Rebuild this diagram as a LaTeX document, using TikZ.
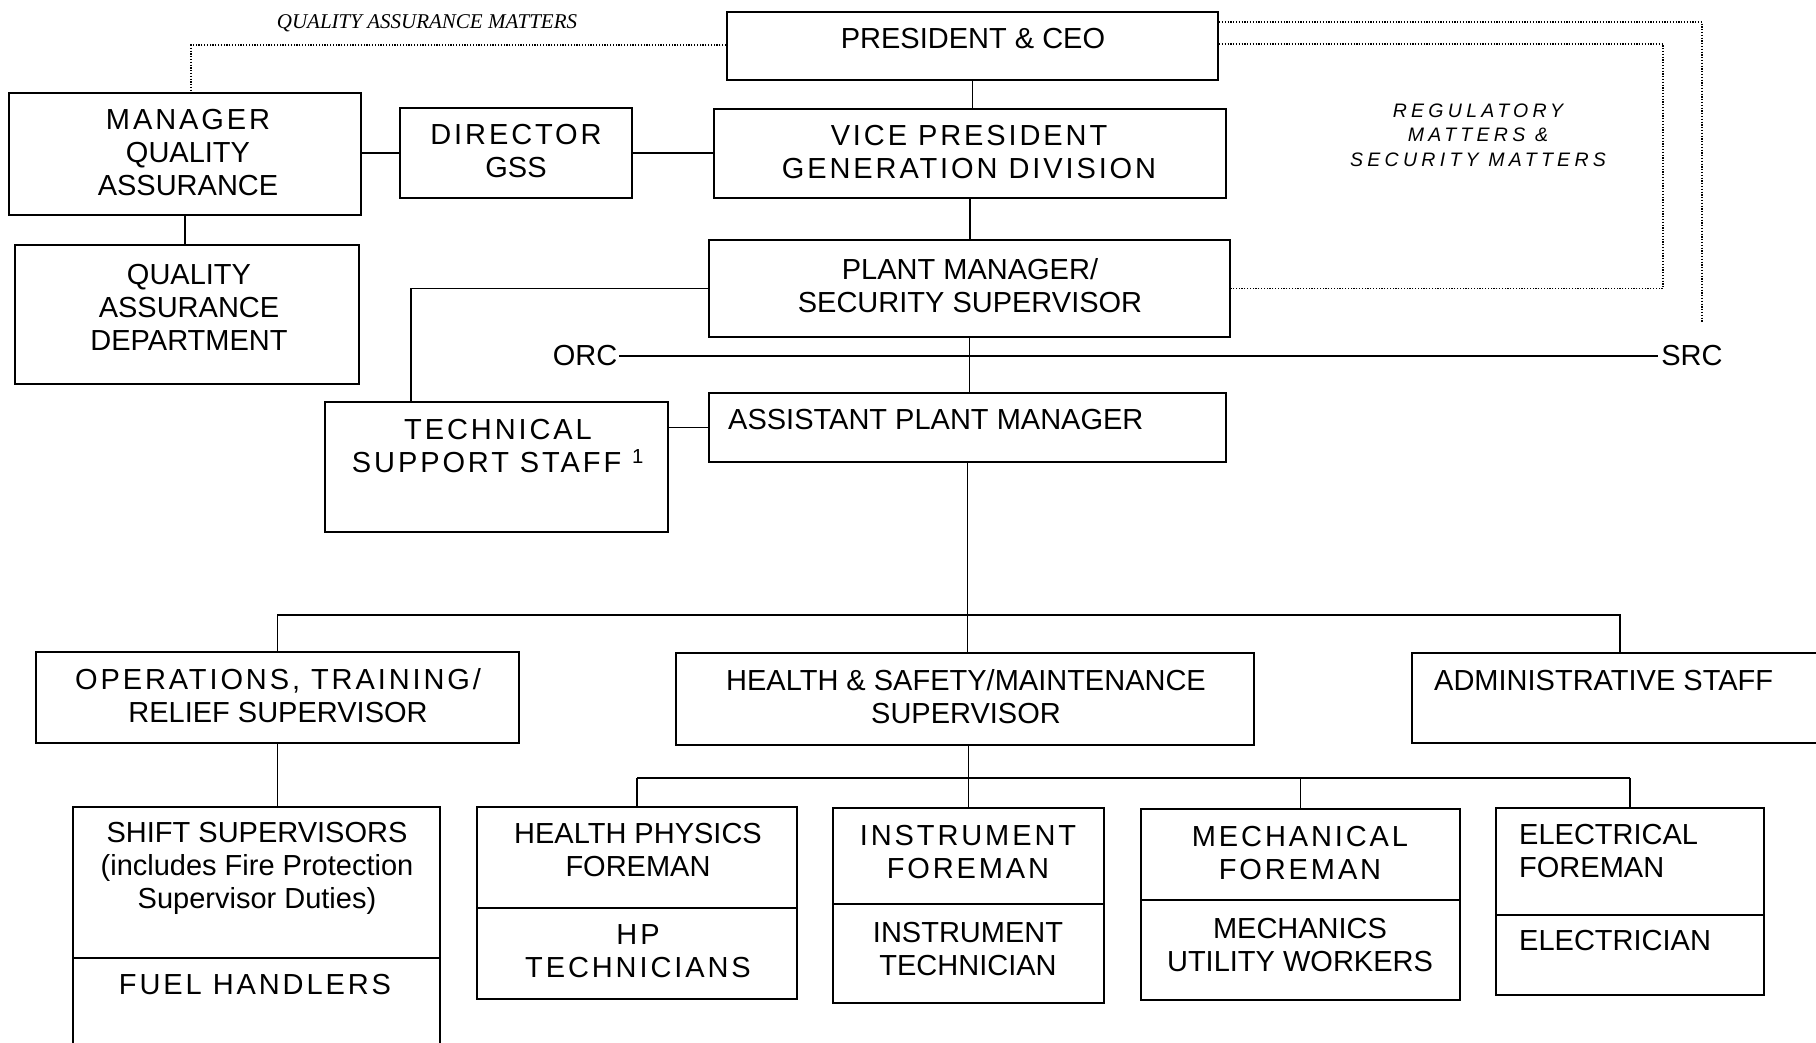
\documentclass[tikz,border=0pt]{standalone}
\usepackage{fontspec}
\setmainfont{Liberation Sans}
\newfontfamily\spaced[LetterSpace=10]{Liberation Sans}
\newfontfamily\regfont[LetterSpace=22]{Liberation Sans}
\newfontfamily\notefont{Liberation Serif}
\begin{document}
\begin{tikzpicture}[x=1pt, y=-1pt,
	box/.style 2 args={draw, line width=2.2pt, minimum width=#1, minimum height=#2, inner sep=0},
	conn/.style={line width=1.8pt},
	dots/.style={line width=1.2pt, dash pattern=on 1.2pt off 1.6pt},
	lbl/.style={font=\fontsize{29}{33}\selectfont, align=center, inner sep=0},
	sp/.style={lbl, font=\spaced\fontsize{29}{33}\selectfont}]
	\path[use as bounding box, clip] (0,0) rectangle (1816,1042);
	
	%Kaesten oben
	\node[box={491}{68}] (pres) at (972.5,46) {};
	\node[box={352}{122}] (mqa) at (185,154) {};
	\node[box={232}{90}] (dir) at (516,153) {};
	\node[box={512}{89}] (vp) at (970,153.5) {};
	\node[box={344}{139}] (qad) at (187,314.5) {};
	\node[box={521}{97}] (pm) at (969.5,288.5) {};
	\node[box={343}{130}] (tss) at (496.5,467) {};
	\node[box={517}{69}] (apm) at (967.5,427.5) {};
	
	%Kaesten mitte
	\node[box={483}{91}] (ops) at (277.5,697.5) {};
	\node[box={578}{92}] (hs) at (965,699) {};
	\node[box={416}{90}] (admin) at (1620,698) {};
	
	%Kaesten unten
	\node[box={367}{151}] (shift) at (256.5,882.5) {};
	\node[box={367}{112}] (fuel) at (256.5,1014) {};
	\node[box={320}{101}] (hp) at (637,857.5) {};
	\node[box={320}{91}] (hpt) at (637,953.5) {};
	\node[box={271}{96}] (inst) at (968.5,856) {};
	\node[box={271}{99}] (instt) at (968.5,953.5) {};
	\node[box={319}{91}] (mech) at (1300.5,854.5) {};
	\node[box={319}{100}] (mecht) at (1300.5,950) {};
	\node[box={268}{107}] (elec) at (1630,861.5) {};
	\node[box={268}{80}] (elect) at (1630,955) {};
	
	%Texte
	\node[lbl] (pres-t) at (973,39) {PRESIDENT \& CEO};
	\node[lbl] (mqa-t) at (188,153) {{\spaced MANAGER}\\QUALITY\\ASSURANCE};
	\node[lbl] (dir-t) at (516,151) {{\spaced DIRECTOR}\\GSS};
	\node[sp] (vp-t) at (969,152) {VICE PRESIDENT\\GENERATION DIVISION};
	\node[lbl] (qad-t) at (189,307) {QUALITY\\ASSURANCE\\DEPARTMENT};
	\node[lbl] (pm-t) at (970,285.5) {PLANT MANAGER/\\SECURITY SUPERVISOR};
	\node[sp] (tss-t) at (498,446) {TECHNICAL\\SUPPORT STAFF \textsuperscript{1}};
	\node[lbl, anchor=west] (apm-t) at (728,420) {ASSISTANT PLANT MANAGER};
	\node[lbl] (ops-t) at (278,696) {{\spaced OPERATIONS, TRAINING/}\\RELIEF SUPERVISOR};
	\node[lbl] (hs-t) at (966,697) {HEALTH \& SAFETY/MAINTENANCE\\SUPERVISOR};
	\node[lbl, anchor=west] (admin-t) at (1434,681) {ADMINISTRATIVE STAFF};
	\node[lbl] (shift-t) at (257,868) {SHIFT SUPERVISORS\\(includes Fire Protection\\Supervisor Duties)};
	\node[sp] (fuel-t) at (255,985) {FUEL HANDLERS};
	\node[lbl] (hp-t) at (638,850) {HEALTH PHYSICS\\FOREMAN};
	\node[sp] (hpt-t) at (638,951) {HP\\TECHNICIANS};
	\node[sp] (inst-t) at (968,852) {INSTRUMENT\\FOREMAN};
	\node[lbl] (instt-t) at (968,949) {INSTRUMENT\\TECHNICIAN};
	\node[sp] (mech-t) at (1300,853) {MECHANICAL\\FOREMAN};
	\node[lbl] (mecht-t) at (1300,945) {MECHANICS\\UTILITY WORKERS};
	\node[lbl, align=left, anchor=west] (elec-t) at (1519,851) {ELECTRICAL\\FOREMAN};
	\node[lbl, anchor=west] (elect-t) at (1519,941) {ELECTRICIAN};
	\node[lbl, inner xsep=2pt] (orc) at (585,356) {ORC};
	\node[lbl, inner xsep=3pt] (src) at (1692,356) {SRC};
	\node[font=\notefont\itshape\fontsize{21}{24}\selectfont, inner sep=0] (qa-note) at (427,23) {QUALITY ASSURANCE MATTERS};
	\node[font=\regfont\itshape\fontsize{19.5}{24.3}\selectfont, align=center, inner sep=0] (reg-note) at (1478,135) {REGULATORY\\MATTERS \&\\SECURITY MATTERS};
	
	%Linien
	\draw[conn] (pres.south) -- (pres.south |- vp.north);
	\draw[conn] (vp.south) -- (vp.south |- pm.north);
	\draw[conn] (pm.south) -- (pm.south |- apm.north);
	\draw[conn] (mqa.east |- dir.west) -- (dir.west);
	\draw[conn] (dir.east) -- (dir.east -| vp.west);
	\draw[conn] (mqa.south) -- (mqa.south |- qad.north);
	\draw[conn] (pm.west) -| (tss.north -| 411,0);
	\draw[conn] (apm.west) -- (apm.west -| tss.east);
	\draw[conn] (orc.east) -- (src.west);
	
	\coordinate (bus) at (967,615);
	\draw[conn] (apm.south) -- (apm.south |- hs.north);
	\draw[conn] (ops.north) |- (bus) -| (admin.north);
	\draw[conn] (ops.south) -- (ops.south |- shift.north);
	
	\coordinate (hsbus) at (968,778);
	\draw[conn] (inst.north |- hs.south) -- (inst.north);
	\draw[conn] (hp.north |- hsbus) -- (elec.north |- hsbus);
	\foreach \n in {hp, mech, elec}{
		\draw[conn] (\n.north) -- (\n.north |- hsbus);
	}
	
	%gepunktet
	\coordinate (src-dot) at (1702,322);
	\draw[dots] (pres.west |- 0,45) -| (mqa.north -| 191,0);
	\draw[dots] (pres.east |- 0,22) -| (src-dot);
	\draw[dots] (pres.east |- 0,44) -| (pm.east -| 1663,0) -- (pm.east);
	
\end{tikzpicture}
\end{document}
